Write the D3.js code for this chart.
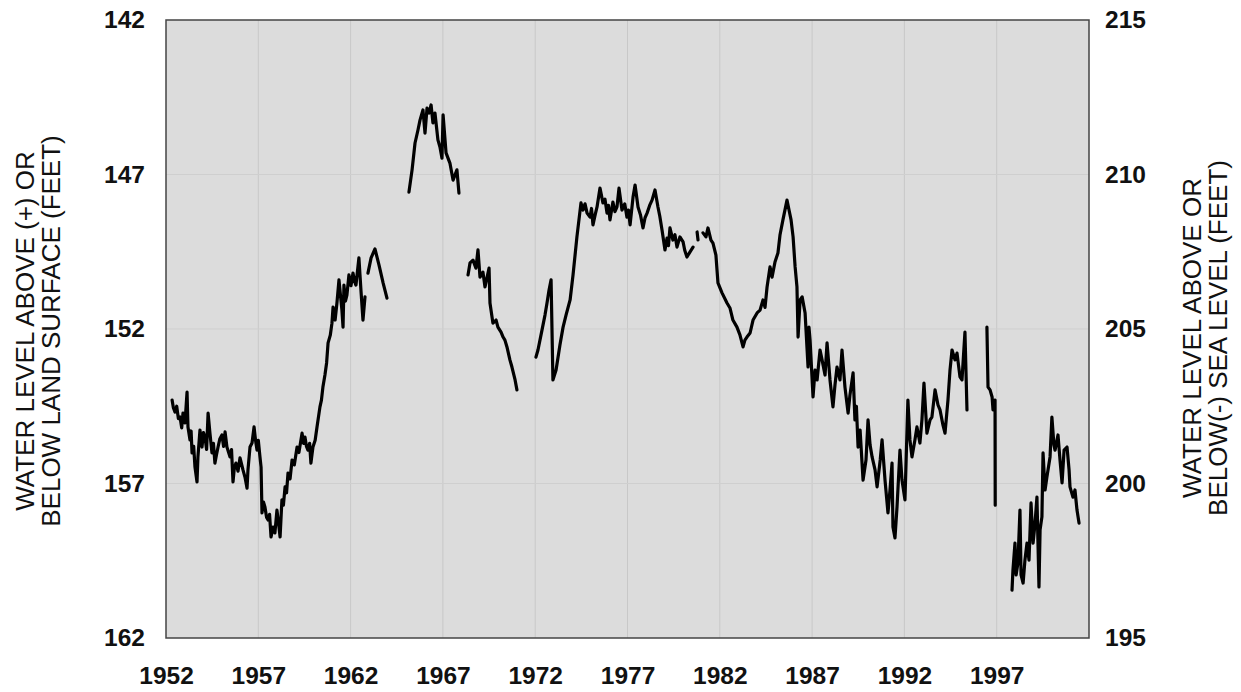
<!DOCTYPE html>
<html>
<head>
<meta charset="utf-8">
<script src="https://cdn.jsdelivr.net/npm/d3@7/dist/d3.min.js"></script>
<style>
  html, body { margin: 0; padding: 0; background: #fff; }
  svg { display: block; }
  text { font-family: "Liberation Sans", Arial, Helvetica, sans-serif; fill: #111; }
</style>
</head>
<body>
<svg id="chart" width="1241" height="692"></svg>
<script>
// ---------- DATA (year, depth below land surface in feet) ----------
const yearTicks = [1952, 1957, 1962, 1967, 1972, 1977, 1982, 1987, 1992, 1997];
const depthTicks = [142, 147, 152, 157, 162];
const elevationTicks = [215, 210, 205, 200, 195];
const landSurfaceElevation = 357; // sea-level elevation = 357 - depth

const record1952to1962 = [
  [1952.33,154.30],[1952.40,154.55],[1952.49,154.69],[1952.58,154.50],[1952.67,154.90],[1952.76,154.85],
  [1952.85,155.20],[1952.92,154.72],[1953.03,155.04],[1953.14,154.04],
  [1953.19,155.17],[1953.30,155.59],[1953.36,155.30],[1953.41,156.01],[1953.50,155.80],[1953.57,156.47],[1953.68,156.95],[1953.73,156.14],
  [1953.84,155.27],[1953.90,155.60],[1953.95,155.82],[1954.03,155.35],[1954.11,155.50],[1954.20,155.90],[1954.28,154.72],[1954.38,155.37],[1954.49,156.01],
  [1954.57,155.70],[1954.65,156.34],[1954.74,156.05],[1954.82,155.82],[1954.92,155.55],[1955.03,155.43],[1955.12,155.80],[1955.20,155.33],[1955.30,155.82],[1955.47,156.14],
  [1955.55,155.90],[1955.63,156.95],[1955.70,156.50],[1955.79,156.34],[1955.90,156.60],[1956.01,156.17],[1956.17,156.56],[1956.28,156.80],[1956.39,157.15],[1956.44,156.56],
  [1956.55,155.82],[1956.66,155.69],[1956.77,155.17],[1956.85,155.60],[1956.93,155.92],[1957.00,155.60],[1957.09,156.14],[1957.15,156.47],
  [1957.20,157.95],[1957.28,157.60],[1957.36,157.76],[1957.45,158.10],[1957.53,158.18],[1957.61,158.00],[1957.69,158.73],[1957.80,158.41],[1957.90,158.60],[1958.01,157.86],
  [1958.10,158.30],[1958.18,158.73],[1958.28,157.53],[1958.36,157.70],[1958.45,157.11],[1958.53,157.30],[1958.61,156.66],[1958.72,156.85],[1958.83,156.24],[1958.95,156.40],[1959.10,155.82],
  [1959.20,156.00],[1959.37,155.37],[1959.45,155.70],[1959.53,155.50],[1959.61,155.80],[1959.69,155.92],[1959.78,155.70],[1959.85,156.34],[1959.96,155.82],[1960.08,155.60],[1960.18,155.17],
  [1960.34,154.52],[1960.42,154.30],[1960.50,153.88],[1960.61,153.49],[1960.70,153.10],[1960.78,152.45],[1960.90,152.20],[1960.99,151.81],[1961.05,151.29],
  [1961.16,151.71],[1961.26,151.16],[1961.37,150.41],[1961.45,150.90],[1961.53,151.39],[1961.59,151.94],[1961.64,150.58],
  [1961.72,151.10],[1961.80,150.90],[1961.91,150.25],[1962.02,150.60],[1962.13,150.19],[1962.21,150.45],[1962.29,150.58],[1962.45,149.70],[1962.56,150.74],
  [1962.67,151.71],[1962.78,150.96]
];
const record1963 = [
  [1962.94,150.19],[1963.11,149.70],[1963.32,149.41],[1963.54,149.93],[1963.76,150.51],[1963.97,151.00]
];
const record1965to1967 = [
  [1965.16,147.57],[1965.33,146.85],[1965.49,145.98],[1965.65,145.56],[1965.76,145.24],[1965.92,144.91],
  [1966.03,145.66],[1966.14,144.85],[1966.25,145.01],[1966.36,144.75],[1966.46,145.33],[1966.57,145.01],
  [1966.73,145.88],[1966.84,146.11],[1966.95,146.47],[1967.01,145.07],[1967.17,146.30],[1967.38,146.63],
  [1967.55,147.18],[1967.76,146.85],[1967.87,147.60]
];
const record1968to1970 = [
  [1968.36,150.25],[1968.47,149.86],[1968.63,149.77],[1968.79,150.03],[1968.90,149.44],[1969.01,150.32],
  [1969.17,150.16],[1969.28,150.64],[1969.50,150.03],[1969.55,151.16],[1969.71,151.81],[1969.88,151.71],
  [1969.98,151.94],[1970.15,152.10],[1970.26,152.26],[1970.36,152.36],[1970.47,152.58],[1970.63,153.00],
  [1970.74,153.23],[1970.91,153.65],[1971.01,153.97]
];
const record1972to1980 = [
  [1972.04,152.91],[1972.15,152.68],[1972.37,152.03],[1972.53,151.55],[1972.64,151.16],[1972.75,150.74],
  [1972.86,150.41],[1972.96,153.65],[1973.13,153.33],[1973.34,152.52],[1973.51,151.94],[1973.67,151.55],
  [1973.89,151.06],[1974.05,150.25],[1974.26,149.02],[1974.37,148.47],[1974.48,147.92],[1974.59,148.15],
  [1974.70,147.95],[1974.81,148.25],[1974.97,148.38],[1975.05,148.10],[1975.13,148.63],[1975.25,148.30],[1975.35,148.05],[1975.51,147.44],[1975.67,147.92],
  [1975.78,147.80],[1975.89,148.25],[1975.97,148.00],[1976.05,148.47],[1976.21,147.89],[1976.32,148.20],[1976.43,148.05],[1976.54,147.44],[1976.70,148.15],
  [1976.85,147.95],[1976.97,148.38],[1977.05,148.15],[1977.14,148.63],[1977.30,147.73],[1977.41,147.34],[1977.57,148.05],[1977.70,148.30],[1977.84,148.73],
  [1977.95,148.40],[1978.06,148.25],[1978.20,148.00],[1978.33,147.83],[1978.49,147.50],[1978.65,148.05],[1978.75,148.35],[1978.87,148.80],[1979.03,149.44],
  [1979.14,149.06],[1979.22,149.30],[1979.30,148.73],[1979.46,149.12],[1979.57,148.95],[1979.68,149.35],[1979.84,149.02],[1980.01,149.18],
  [1980.10,149.45],[1980.22,149.67],[1980.38,149.51],[1980.55,149.35]
];
const record1980 = [[1980.77,148.86],[1980.82,149.12]];
const record1981to1995 = [
  [1981.09,148.89],[1981.25,149.02],[1981.36,148.73],[1981.52,149.12],[1981.63,149.22],[1981.79,149.61],
  [1981.90,150.51],[1982.12,150.83],[1982.39,151.16],[1982.55,151.32],[1982.71,151.71],[1982.93,151.94],
  [1983.09,152.19],[1983.26,152.58],[1983.36,152.36],[1983.47,152.26],[1983.64,152.13],[1983.80,151.71],
  [1984.02,151.48],[1984.18,151.39],[1984.34,151.06],[1984.45,151.30],[1984.56,150.64],[1984.72,149.99],[1984.83,150.32],
  [1984.99,149.83],[1985.15,149.54],[1985.26,148.96],[1985.42,148.47],[1985.64,147.83],[1985.75,148.15],
  [1985.86,148.47],[1985.97,149.02],[1986.08,149.99],[1986.18,150.64],[1986.24,152.26],[1986.35,151.06],
  [1986.46,150.96],[1986.62,151.48],[1986.78,153.23],[1986.83,151.94],[1986.89,152.36],[1987.05,154.20],[1987.16,153.33],
  [1987.27,153.65],[1987.43,152.68],[1987.54,153.00],[1987.70,153.49],[1987.81,152.45],[1987.97,153.65],
  [1988.13,154.52],[1988.24,153.81],[1988.35,153.23],[1988.51,153.65],[1988.62,152.68],[1988.78,153.88],
  [1988.95,154.72],[1989.05,154.14],[1989.22,153.42],[1989.32,154.94],[1989.40,154.50],[1989.49,155.82],[1989.60,155.27],
  [1989.76,156.89],[1989.92,156.24],[1990.03,154.94],[1990.14,155.75],[1990.25,156.14],[1990.41,156.56],
  [1990.52,157.11],[1990.69,156.24],[1990.79,155.59],[1990.95,156.89],[1991.11,157.95],[1991.22,157.21],
  [1991.33,156.34],[1991.38,158.41],[1991.49,158.76],[1991.60,157.76],[1991.76,155.92],[1991.87,156.89],
  [1992.03,157.53],[1992.19,154.30],[1992.30,155.59],[1992.41,156.14],[1992.57,155.59],[1992.68,155.17],
  [1992.84,155.69],[1992.95,154.94],[1993.06,153.75],[1993.22,155.37],[1993.39,154.94],[1993.49,154.85],
  [1993.66,153.97],[1993.82,154.46],[1993.93,154.62],[1994.09,155.11],[1994.20,155.37],[1994.36,154.30],
  [1994.47,153.33],[1994.58,152.68],[1994.74,153.00],[1994.85,152.78],[1995.01,153.55],[1995.12,153.65],
  [1995.28,152.10],[1995.39,154.62]
];
const record1996 = [
  [1996.47,151.94],[1996.53,153.88],[1996.64,153.97],[1996.75,154.20],[1996.80,154.62],[1996.91,154.30],
  [1996.92,157.70]
];
const record1997to2001 = [
  [1997.83,160.45],[1997.88,159.80],[1997.99,158.93],[1998.05,159.96],[1998.15,159.57],[1998.26,157.86],
  [1998.32,159.96],[1998.43,160.22],[1998.53,159.48],[1998.64,158.93],[1998.75,159.48],[1998.86,157.63],
  [1998.97,158.93],[1999.07,158.34],[1999.18,157.44],[1999.29,160.35],[1999.35,158.50],[1999.45,158.08],
  [1999.51,156.01],[1999.62,157.21],[1999.72,156.79],[1999.89,156.14],[1999.99,154.85],[2000.10,155.75],
  [2000.16,155.92],[2000.32,155.43],[2000.43,156.24],[2000.54,156.98],[2000.65,155.92],[2000.81,155.82],
  [2000.92,156.56],[2000.97,157.11],[2001.13,157.44],[2001.24,157.21],[2001.35,157.86],[2001.46,158.28]
];
const segments = [record1952to1962, record1963, record1965to1967, record1968to1970,
  record1972to1980, record1980, record1981to1995, record1996, record1997to2001];

// ---------- LAYOUT ----------
const W = 1241, H = 692;
const margin = { top: 20, right: 152, bottom: 54, left: 166 };
const iw = W - margin.left - margin.right;
const ih = H - margin.top - margin.bottom;

const svg = d3.select("#chart");
const g = svg.append("g").attr("transform", `translate(${margin.left},${margin.top})`);

const x = d3.scaleLinear().domain([1952, 2002]).range([0, iw]);
const y = d3.scaleLinear().domain([142, 162]).range([0, ih]);
const y2 = d3.scaleLinear().domain([landSurfaceElevation - 142, landSurfaceElevation - 162]).range([0, ih]);

// plot background
g.append("rect").attr("width", iw).attr("height", ih).attr("fill", "#dcdcdc");

// gridlines
g.append("g").selectAll("line").data(yearTicks.slice(1)).join("line")
  .attr("x1", d => x(d)).attr("x2", d => x(d)).attr("y1", 0).attr("y2", ih)
  .attr("stroke", "#c8c8c8").attr("stroke-width", 1);
g.append("g").selectAll("line").data(depthTicks.slice(1, -1)).join("line")
  .attr("x1", 0).attr("x2", iw).attr("y1", d => y(d)).attr("y2", d => y(d))
  .attr("stroke", "#cfcfcf").attr("stroke-width", 1);

// data line
const line = d3.line().x(d => x(d[0])).y(d => y(d[1]));
g.append("g").selectAll("path").data(segments).join("path")
  .attr("d", line).attr("fill", "none").attr("stroke", "#000")
  .attr("stroke-width", 3.2).attr("stroke-linejoin", "round").attr("stroke-linecap", "round");

// frame
g.append("rect").attr("width", iw).attr("height", ih).attr("fill", "none")
  .attr("stroke", "#444").attr("stroke-width", 1.5);

// axes
const tickFont = (sel) => sel.selectAll("text")
  .style("font-family", '"Liberation Sans", Arial, sans-serif')
  .style("font-weight", "bold").style("font-size", "24.5px").attr("fill", "#111");

const ax = g.append("g").attr("transform", `translate(0,${ih})`)
  .call(d3.axisBottom(x).tickValues(yearTicks).tickFormat(d3.format("d")).tickSize(0).tickPadding(29));
ax.select(".domain").remove(); tickFont(ax);

const ayl = g.append("g")
  .call(d3.axisLeft(y).tickValues(depthTicks).tickFormat(d3.format("d")).tickSize(0).tickPadding(21));
ayl.select(".domain").remove(); tickFont(ayl);

const ayr = g.append("g").attr("transform", `translate(${iw},0)`)
  .call(d3.axisRight(y2).tickValues(elevationTicks).tickFormat(d3.format("d")).tickSize(0).tickPadding(16));
ayr.select(".domain").remove(); tickFont(ayr);

// axis titles
function vTitle(cx, cy, lines) {
  const t = svg.append("text")
    .attr("transform", `translate(${cx},${cy}) rotate(-90)`)
    .attr("text-anchor", "middle")
    .style("font-size", "26px");
  lines.forEach((s, i) => t.append("tspan").attr("x", 0).attr("dy", i === 0 ? 0 : "1.0em").text(s));
}
vTitle(34, 331, ["WATER LEVEL ABOVE (+) OR", "BELOW LAND SURFACE (FEET)"]);
vTitle(1201, 338, ["WATER LEVEL ABOVE OR", "BELOW(-) SEA LEVEL (FEET)"]);
</script>
</body>
</html>
